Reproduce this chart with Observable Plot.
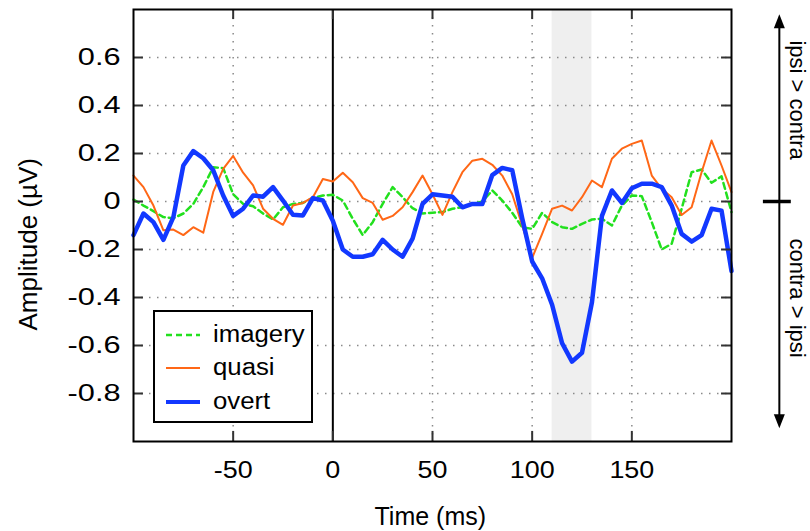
<!DOCTYPE html>
<html>
<head>
<meta charset="utf-8">
<script src="https://cdn.jsdelivr.net/npm/d3@7"></script>
<script src="https://cdn.jsdelivr.net/npm/@observablehq/plot@0.6"></script>
<style>
  html, body { margin: 0; padding: 0; background: #fff; }
  #wrap { position: relative; width: 810px; height: 531px; overflow: hidden;
          font-family: "Liberation Sans", Arial, sans-serif; }
  #wrap svg { display: block; }
  #legend { position: absolute; left: 153px; top: 310px; width: 160px; height: 113px;
            box-sizing: border-box; border: 2px solid #000; background: #fff; }
  #legend .row { position: absolute; left: 0; height: 30px; width: 100%; }
  #legend .row svg { position: absolute; left: 10px; top: 10px; }
  #legend .row span { position: absolute; left: 58px; top: 1px; font-size: 23px; line-height: 26px; color: #000;
                      transform: scaleX(1.12); transform-origin: 0 50%; white-space: nowrap; }
</style>
</head>
<body>
<div id="wrap"></div>
<script>
// ---- data ----
const times = [-100,-95,-90,-85,-80,-75,-70,-65,-60,-55,-50,-45,-40,-35,-30,-25,-20,-15,-10,-5,
  0,5,10,15,20,25,30,35,40,45,50,55,60,65,70,75,80,85,90,95,
  100,105,110,115,120,125,130,135,140,145,150,155,160,165,170,175,180,185,190,195,200];

const imagery = [0.008,-0.017,-0.04,-0.065,-0.07,-0.05,-0.01,0.06,0.143,0.139,
  0.03,-0.01,-0.02,-0.05,-0.075,-0.024,-0.01,-0.006,0.014,0.025,
  0.028,0.004,-0.072,-0.14,-0.086,-0.01,0.06,0.018,-0.028,-0.05,
  -0.047,-0.044,-0.03,-0.024,-0.01,0,0.046,0.004,-0.047,-0.107,
  -0.114,-0.047,-0.086,-0.107,-0.114,-0.093,-0.075,-0.072,-0.1,-0.017,
  0.025,0.022,-0.086,-0.2,-0.176,-0.03,0.122,0.133,0.078,0.105,-0.044];

const quasi = [0.108,0.06,-0.017,-0.12,-0.117,-0.14,-0.107,-0.13,0.04,0.136,
  0.19,0.12,0.067,-0.03,-0.072,-0.097,-0.017,-0.006,0.018,0.094,
  0.083,0.12,0.08,0.014,-0.006,-0.076,-0.06,-0.024,0.039,0.108,
  0.03,-0.056,0.039,0.122,0.17,0.178,0.153,0.108,0.03,-0.1,
  -0.235,-0.135,-0.03,-0.017,-0.0375,0.018,0.0875,0.06,0.178,0.22,
  0.24,0.254,0.108,0.053,0.018,-0.056,-0.024,0.122,0.254,0.15,0.039];

const overt = [-0.14,-0.05,-0.086,-0.16,-0.065,0.15,0.21,0.18,0.13,0.025,
  -0.06,-0.03,0.025,0.02,0.06,0.004,-0.055,-0.058,0.014,0.004,
  -0.08,-0.2,-0.23,-0.23,-0.22,-0.16,-0.2,-0.23,-0.155,-0.01,
  0.03,0.025,0.02,-0.024,-0.01,-0.01,0.11,0.14,0.13,-0.07,
  -0.25,-0.32,-0.43,-0.59,-0.667,-0.63,-0.42,-0.06,0.046,-0.006,
  0.055,0.074,0.074,0.06,-0.017,-0.135,-0.167,-0.14,-0.03,-0.038,-0.29];

const seriesNames = ["imagery", "quasi", "overt"];
const xTicks = [-50, 0, 50, 100, 150];
const yTicks = [-0.8, -0.6, -0.4, -0.2, 0, 0.2, 0.4, 0.6];
const shadedWindow = [110, 130];
const sideLabels = ["ipsi > contra", "contra > ipsi"];

// ---- styles ----
const styles = {
  imagery: { stroke: "#22e01e", strokeWidth: 2.5, strokeDasharray: "6,4" },
  quasi:   { stroke: "#ff6716", strokeWidth: 2 },
  overt:   { stroke: "#1238ff", strokeWidth: 4.5 }
};
const seriesData = { imagery, quasi, overt };
const rowsFor = name => times.map((t, i) => ({ t, v: seriesData[name][i] }));

const arrowTop = 0.78, arrowBottom = -0.945, arrowX = 224;
const sideRows = [
  { label: sideLabels[0], y: 0.671 },
  { label: sideLabels[1], y: -0.154 }
];

const gridStyle = { stroke: "#8a8a8a", strokeWidth: 1.5, strokeDasharray: "1.5,6.5" };
const tickStyle = { stroke: "#333", strokeWidth: 2 };

const plot = Plot.plot({
  width: 810,
  height: 531,
  marginLeft: 133,
  marginRight: 79,
  marginTop: 9,
  marginBottom: 90,
  x: { domain: [-100, 200] },
  y: { domain: [-1.0, 0.8] },
  style: { fontFamily: "'Liberation Sans', Arial, sans-serif", fontSize: "22px", color: "#000", background: "#fff", overflow: "visible" },
  marks: [
    Plot.rect([shadedWindow], { x1: d => d[0], x2: d => d[1], fill: "#efefef" }),
    Plot.ruleX(xTicks.filter(d => d !== 0), { x: d => d, ...gridStyle }),
    Plot.ruleY(yTicks, { y: d => d, ...gridStyle }),
    Plot.ruleX([0], { x: d => d, stroke: "#000", strokeWidth: 2 }),
    ...seriesNames.map(name => Plot.line(rowsFor(name), { x: "t", y: "v", ...styles[name], strokeLinejoin: "round" })),
    // inward ticks on all four sides
    Plot.ruleY(yTicks, { y: d => d, x1: -100, x2: -95, ...tickStyle }),
    Plot.ruleY(yTicks, { y: d => d, x1: 195, x2: 200, ...tickStyle }),
    Plot.ruleX(xTicks, { x: d => d, y1: -1.0, y2: -0.958, ...tickStyle }),
    Plot.ruleX(xTicks, { x: d => d, y1: 0.758, y2: 0.8, ...tickStyle }),
    Plot.frame({ stroke: "#000", strokeWidth: 2 }),
    Plot.axisX({ ticks: xTicks, tickSize: 0, tickPadding: 19, label: null, fontSize: 24, tickFormat: d => String(d) }),
    Plot.axisY({ ticks: yTicks, tickSize: 0, tickPadding: 13, label: null, fontSize: 24,
                 tickFormat: d => d === 0 ? "0" : d.toFixed(1) }),
    Plot.text(["Time (ms)"], { frameAnchor: "bottom", textAnchor: "start", lineAnchor: "middle", dx: -58, dy: 75, fontSize: 25, ariaLabel: "xlabel" }),
    Plot.text(["Amplitude (µV)"], { frameAnchor: "left", textAnchor: "start", lineAnchor: "middle", dx: -105, dy: 105, rotate: -90, fontSize: 26, ariaLabel: "ylabel" }),
    // right-hand direction annotation
    Plot.ruleX([arrowX], { x: d => d, y1: arrowBottom + 0.04, y2: arrowTop - 0.04, stroke: "#000", strokeWidth: 2 }),
    Plot.vector([{ y: arrowTop, r: 0 }, { y: arrowBottom, r: 180 }],
      { x: arrowX, y: "y", rotate: "r", anchor: "end", shape: "spike", length: 14, r: 5.5, fill: "#000", stroke: "none" }),
    Plot.ruleY([0], { y: d => d, x1: 216, x2: 230, stroke: "#000", strokeWidth: 3.5 }),
    Plot.text(sideRows, { x: 233, y: "y", text: "label", rotate: 90, textAnchor: "start", lineAnchor: "middle", fontSize: 22, ariaLabel: "sidelabel" })
  ]
});

const wrap = document.getElementById("wrap");
wrap.appendChild(plot);

// widen glyphs to match the reference's broad lettering
function stretch(selector, k, fixed) {
  d3.select(plot).selectAll(selector).each(function () {
    const len = this.getComputedTextLength();
    if (len > 0) {
      this.setAttribute("textLength", (fixed || len * k).toFixed(1));
      this.setAttribute("lengthAdjust", "spacingAndGlyphs");
    }
  });
}
stretch('g[aria-label="y-axis tick label"] text', 1.28);
stretch('g[aria-label="x-axis tick label"] text', 1.12);
stretch('g[aria-label="xlabel"] text', 1, 120);
stretch('g[aria-label="ylabel"] text', 1, 220);
stretch('g[aria-label="sidelabel"] text', 1, 140);

// ---- legend (HTML overlay) ----
const legend = document.createElement("div");
legend.id = "legend";
const rowTops = [8, 41, 75];
seriesNames.forEach((name, i) => {
  const row = document.createElement("div");
  row.className = "row";
  row.style.top = rowTops[i] + "px";
  const s = styles[name];
  row.innerHTML = `<svg width="36" height="10"><line x1="1" x2="35" y1="5" y2="5" stroke="${s.stroke}" stroke-width="${Math.min(s.strokeWidth, 4)}" ${s.strokeDasharray ? `stroke-dasharray="${s.strokeDasharray}"` : ""}/></svg><span>${name}</span>`;
  legend.appendChild(row);
});
wrap.appendChild(legend);
</script>
</body>
</html>
